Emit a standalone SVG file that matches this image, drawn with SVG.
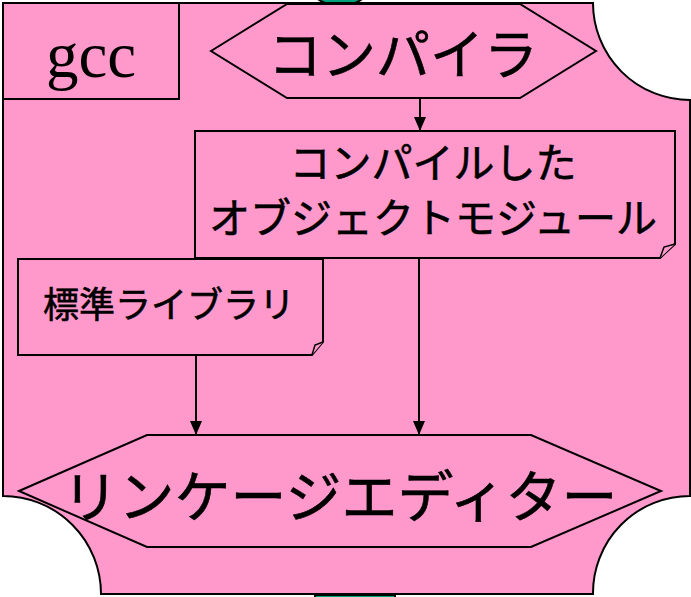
<svg xmlns="http://www.w3.org/2000/svg" width="691" height="597" viewBox="0 0 691 597">
<style>
.pk{fill:#FF99CC;stroke:#000;stroke-width:2;stroke-linejoin:miter}
.fold{fill:#FF99CC;stroke:#000;stroke-width:1.5}
.jp{font-family:"Noto Sans CJK JP","Noto Sans",sans-serif;fill:#000;stroke:#000;stroke-width:0.6;text-anchor:middle;dominant-baseline:central}
.en{font-family:"Liberation Serif","Times New Roman",serif;fill:#000;text-anchor:middle}
.cn{stroke:#000;stroke-width:2;fill:none}
.gr{fill:#00A07A;stroke:#000;stroke-width:2}
</style>
<defs>
<marker id="ah" viewBox="0 0 14 12" refX="14" refY="6" markerWidth="14" markerHeight="12" markerUnits="userSpaceOnUse" orient="auto">
<path d="M0,0 L14,6 L0,12 Z" fill="#000"/>
</marker>
</defs>
<rect width="691" height="597" fill="#fff"/>
<g id="offpage">
<ellipse class="gr" cx="340" cy="-5" rx="24" ry="10"/>
<rect class="gr" x="315" y="595" width="80" height="12"/>
</g>
<g id="frame">
<path class="pk" d="M3,3 H593 A97,97 0 0 0 690,100 V496 A97,97 0 0 0 593,594 H101 A98,98 0 0 0 3,496 Z"/>
</g>
<g id="gcc">
<rect class="pk" x="3" y="3" width="176" height="96"/>
<text class="en" x="91" y="77" font-size="65">gcc</text>
</g>
<g id="compiler">
<polygon class="pk" points="211,51 287,4 520,4 596,51 520,98 287,98"/>
<text class="jp" x="403" y="51" font-size="54">コンパイラ</text>
</g>
<g id="objmodule">
<path class="pk" d="M195,131 H675 V244 L660,258 H195 Z"/>
<path class="fold" d="M675,244 L664,247 L660,258"/>
<text class="jp" x="433" y="160" font-size="41">コンパイルした</text>
<text class="jp" x="433" y="215" font-size="41">オブジェクトモジュール</text>
</g>
<g id="stdlib">
<path class="pk" d="M18,259 H323 V342 L312,355 H18 Z"/>
<path class="fold" d="M323,342 L315,345 L312,355"/>
<text class="jp" x="169" y="302" font-size="36">標準ライブラリ</text>
</g>
<g id="linker">
<polygon class="pk" points="19,491 147,435 531,435 661,491 531,547 147,547"/>
<text class="jp" x="340" y="492" font-size="56">リンケージエディター</text>
</g>
<g id="connectors">
<line class="cn" x1="420" y1="98" x2="420" y2="131" marker-end="url(#ah)"/>
<line class="cn" x1="196" y1="355" x2="196" y2="435" marker-end="url(#ah)"/>
<line class="cn" x1="419" y1="258" x2="419" y2="435" marker-end="url(#ah)"/>
</g>
</svg>
